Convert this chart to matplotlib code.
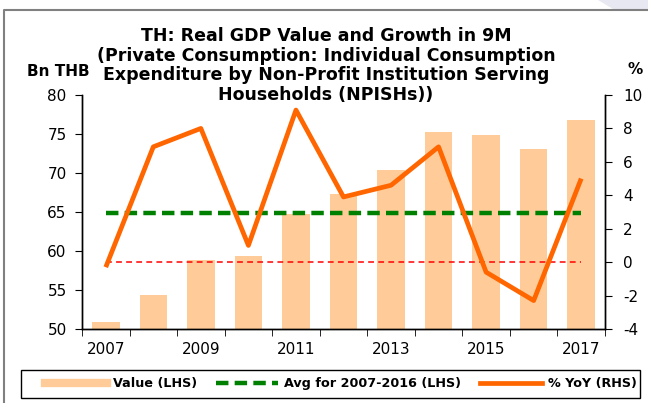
import matplotlib
matplotlib.use('Agg')
import matplotlib.pyplot as plt
from matplotlib.lines import Line2D
from matplotlib.patches import Polygon, Rectangle
import numpy as np

plt.rcParams['font.family'] = ['DejaVu Sans']
plt.rcParams['axes.unicode_minus'] = False

years = ['2007', '2008', '2009', '2010', '2011', '2012',
         '2013', '2014', '2015', '2016', '2017']
value_bn = [50.9, 54.4, 58.8, 59.4, 64.7, 67.3, 70.4, 75.3, 74.9, 73.1, 76.8]
yoy_pct = [-0.3, 6.9, 8.0, 1.0, 9.1, 3.9, 4.6, 6.9, -0.6, -2.3, 5.0]
avg_years = ('2007', '2016')

BAR = '#FFCC99'
LINE = '#FF6600'
AVG = '#008000'

x = np.arange(len(years))
i0, i1 = years.index(avg_years[0]), years.index(avg_years[1])
avg_val = np.mean(value_bn[i0:i1 + 1])

W, H = 648, 403
fig = plt.figure(figsize=(W / 100, H / 100), dpi=100)
ax = fig.add_axes([82 / W, 1 - 329 / H, (605 - 82) / W, (329 - 95) / H])
ax2 = ax.twinx()

ax.bar(x, value_bn, width=0.58, color=BAR, zorder=1)
ax.plot([x[0], x[-1]], [avg_val, avg_val], color=AVG, lw=3.2,
        dashes=(2.8, 1.4), zorder=3)
ax2.plot([x[0], x[-1]], [0, 0], color='red', lw=1.1, dashes=(3.8, 2.8))
ax2.plot(x, yoy_pct, color=LINE, lw=3.4, solid_capstyle='butt', zorder=4)

ax.set_zorder(ax2.get_zorder() - 1)
ax.patch.set_visible(False)
ax2.patch.set_visible(False)

ax.set_xlim(-0.5, len(years) - 0.5)
ax.set_ylim(50, 80)
ax.set_yticks(np.arange(50, 81, 5))
ax2.set_ylim(-4, 10)
ax2.set_yticks(np.arange(-4, 11, 2))

ax.set_xticks(x[::2])
ax.set_xticklabels(years[::2])
ax.set_xticks(np.arange(-0.5, len(years), 1), minor=True)
ax.tick_params(axis='x', which='major', length=0, pad=9, labelsize=11)
ax.tick_params(axis='x', which='minor', length=5, direction='out')
ax.tick_params(axis='y', length=5, direction='out', labelsize=11, pad=6)
ax2.tick_params(axis='y', length=5, direction='out', labelsize=11, pad=8)

for a in (ax, ax2):
    a.spines['top'].set_visible(False)
    for s in a.spines.values():
        s.set_linewidth(1.0)

fig.text(0.503, 1 - 65.5 / H, 'TH: Real GDP Value and Growth in 9M\n'
         '(Private Consumption: Individual Consumption\n'
         'Expenditure by Non-Profit Institution Serving\n'
         'Households (NPISHs))',
         ha='center', va='center', fontsize=12.5, fontweight='bold',
         linespacing=1.1)
fig.text(58 / W, 1 - 72 / H, 'Bn THB', ha='center', va='center',
         fontsize=11, fontweight='bold')
fig.text(635 / W, 1 - 70 / H, '%', ha='center', va='center',
         fontsize=11, fontweight='bold')

# legend box drawn separately so the entries can sit right-aligned in it
fig.add_artist(Rectangle((21 / W, 1 - 398 / H), (640 - 21) / W, 28 / H,
                         transform=fig.transFigure, facecolor='white',
                         edgecolor='black', lw=1.0))
handles = [Line2D([], [], color=BAR, lw=6),
           Line2D([], [], color=AVG, lw=3.2, dashes=(2.8, 1.4)),
           Line2D([], [], color=LINE, lw=3.4)]
labels = ['Value (LHS)', 'Avg for 2007-2016 (LHS)', '% YoY (RHS)']
fig.legend(handles, labels, loc='center right', ncol=3, frameon=False,
           bbox_to_anchor=(637 / W, 1 - 384 / H), borderaxespad=0,
           borderpad=0, prop={'weight': 'bold', 'size': 9.2},
           handlelength=4.85, handletextpad=0.47, columnspacing=1.5)

# page border and corner swoosh
fig.add_artist(Polygon([(598 / W, 1), (1, 1), (1, 1 - 9 / H), (613 / W, 1 - 9 / H)],
                       closed=True, transform=fig.transFigure,
                       facecolor='#e8e8f2', edgecolor='none'))
fig.add_artist(Line2D([4 / W, 4 / W, 1], [0, 1 - 9.5 / H, 1 - 9.5 / H],
                      transform=fig.transFigure, color='#808080', lw=1.5))

fig.savefig('out.png', dpi=100)
